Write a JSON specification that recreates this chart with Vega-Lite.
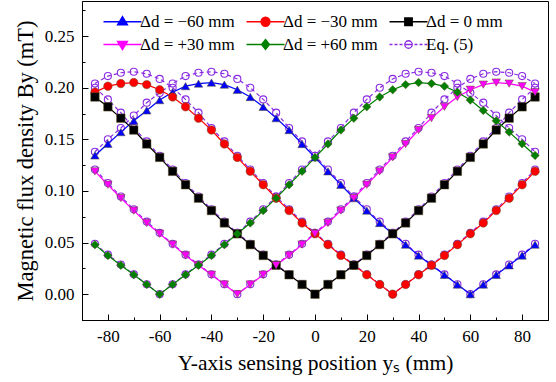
{
"$schema": "https://vega.github.io/schema/vega-lite/v6.json",
"width": 466, "height": 319,
"autosize": {"type": "none"},
"padding": {"left": 82, "top": 1, "right": 8, "bottom": 62},
"background": "white",
"datasets": {
"m": [
{"ys":-85,"By":0.1344,"s":"Δd = −60 mm"},{"ys":-80,"By":0.1457,"s":"Δd = −60 mm"},{"ys":-75,"By":0.157,"s":"Δd = −60 mm"},{"ys":-70,"By":0.168,"s":"Δd = −60 mm"},{"ys":-65,"By":0.178,"s":"Δd = −60 mm"},{"ys":-60,"By":0.188,"s":"Δd = −60 mm"},{"ys":-55,"By":0.1957,"s":"Δd = −60 mm"},{"ys":-50,"By":0.2015,"s":"Δd = −60 mm"},{"ys":-45,"By":0.204,"s":"Δd = −60 mm"},{"ys":-40,"By":0.205,"s":"Δd = −60 mm"},{"ys":-35,"By":0.203,"s":"Δd = −60 mm"},{"ys":-30,"By":0.198,"s":"Δd = −60 mm"},{"ys":-25,"By":0.191,"s":"Δd = −60 mm"},{"ys":-20,"By":0.1815,"s":"Δd = −60 mm"},{"ys":-15,"By":0.1705,"s":"Δd = −60 mm"},{"ys":-10,"By":0.159,"s":"Δd = −60 mm"},{"ys":-5,"By":0.1455,"s":"Δd = −60 mm"},{"ys":0,"By":0.1325,"s":"Δd = −60 mm"},{"ys":5,"By":0.119,"s":"Δd = −60 mm"},{"ys":10,"By":0.106,"s":"Δd = −60 mm"},{"ys":15,"By":0.093,"s":"Δd = −60 mm"},{"ys":20,"By":0.081,"s":"Δd = −60 mm"},{"ys":25,"By":0.069,"s":"Δd = −60 mm"},{"ys":30,"By":0.0585,"s":"Δd = −60 mm"},{"ys":35,"By":0.048,"s":"Δd = −60 mm"},{"ys":40,"By":0.0375,"s":"Δd = −60 mm"},{"ys":45,"By":0.028,"s":"Δd = −60 mm"},{"ys":50,"By":0.0188,"s":"Δd = −60 mm"},{"ys":55,"By":0.0094,"s":"Δd = −60 mm"},{"ys":60,"By":0,"s":"Δd = −60 mm"},{"ys":65,"By":0.0094,"s":"Δd = −60 mm"},{"ys":70,"By":0.0188,"s":"Δd = −60 mm"},{"ys":75,"By":0.028,"s":"Δd = −60 mm"},{"ys":80,"By":0.0375,"s":"Δd = −60 mm"},{"ys":85,"By":0.048,"s":"Δd = −60 mm"},
{"ys":-85,"By":0.1957,"s":"Δd = −30 mm"},{"ys":-80,"By":0.2015,"s":"Δd = −30 mm"},{"ys":-75,"By":0.204,"s":"Δd = −30 mm"},{"ys":-70,"By":0.205,"s":"Δd = −30 mm"},{"ys":-65,"By":0.203,"s":"Δd = −30 mm"},{"ys":-60,"By":0.198,"s":"Δd = −30 mm"},{"ys":-55,"By":0.191,"s":"Δd = −30 mm"},{"ys":-50,"By":0.1815,"s":"Δd = −30 mm"},{"ys":-45,"By":0.1705,"s":"Δd = −30 mm"},{"ys":-40,"By":0.159,"s":"Δd = −30 mm"},{"ys":-35,"By":0.1455,"s":"Δd = −30 mm"},{"ys":-30,"By":0.1325,"s":"Δd = −30 mm"},{"ys":-25,"By":0.119,"s":"Δd = −30 mm"},{"ys":-20,"By":0.106,"s":"Δd = −30 mm"},{"ys":-15,"By":0.093,"s":"Δd = −30 mm"},{"ys":-10,"By":0.081,"s":"Δd = −30 mm"},{"ys":-5,"By":0.069,"s":"Δd = −30 mm"},{"ys":0,"By":0.0585,"s":"Δd = −30 mm"},{"ys":5,"By":0.048,"s":"Δd = −30 mm"},{"ys":10,"By":0.0375,"s":"Δd = −30 mm"},{"ys":15,"By":0.028,"s":"Δd = −30 mm"},{"ys":20,"By":0.0188,"s":"Δd = −30 mm"},{"ys":25,"By":0.0094,"s":"Δd = −30 mm"},{"ys":30,"By":0,"s":"Δd = −30 mm"},{"ys":35,"By":0.0094,"s":"Δd = −30 mm"},{"ys":40,"By":0.0188,"s":"Δd = −30 mm"},{"ys":45,"By":0.028,"s":"Δd = −30 mm"},{"ys":50,"By":0.0375,"s":"Δd = −30 mm"},{"ys":55,"By":0.048,"s":"Δd = −30 mm"},{"ys":60,"By":0.0585,"s":"Δd = −30 mm"},{"ys":65,"By":0.069,"s":"Δd = −30 mm"},{"ys":70,"By":0.081,"s":"Δd = −30 mm"},{"ys":75,"By":0.093,"s":"Δd = −30 mm"},{"ys":80,"By":0.106,"s":"Δd = −30 mm"},{"ys":85,"By":0.119,"s":"Δd = −30 mm"},
{"ys":-85,"By":0.191,"s":"Δd = 0 mm"},{"ys":-80,"By":0.1815,"s":"Δd = 0 mm"},{"ys":-75,"By":0.1705,"s":"Δd = 0 mm"},{"ys":-70,"By":0.159,"s":"Δd = 0 mm"},{"ys":-65,"By":0.1455,"s":"Δd = 0 mm"},{"ys":-60,"By":0.1325,"s":"Δd = 0 mm"},{"ys":-55,"By":0.119,"s":"Δd = 0 mm"},{"ys":-50,"By":0.106,"s":"Δd = 0 mm"},{"ys":-45,"By":0.093,"s":"Δd = 0 mm"},{"ys":-40,"By":0.081,"s":"Δd = 0 mm"},{"ys":-35,"By":0.069,"s":"Δd = 0 mm"},{"ys":-30,"By":0.0585,"s":"Δd = 0 mm"},{"ys":-25,"By":0.048,"s":"Δd = 0 mm"},{"ys":-20,"By":0.0375,"s":"Δd = 0 mm"},{"ys":-15,"By":0.028,"s":"Δd = 0 mm"},{"ys":-10,"By":0.0188,"s":"Δd = 0 mm"},{"ys":-5,"By":0.0094,"s":"Δd = 0 mm"},{"ys":0,"By":0,"s":"Δd = 0 mm"},{"ys":5,"By":0.0094,"s":"Δd = 0 mm"},{"ys":10,"By":0.0188,"s":"Δd = 0 mm"},{"ys":15,"By":0.028,"s":"Δd = 0 mm"},{"ys":20,"By":0.0375,"s":"Δd = 0 mm"},{"ys":25,"By":0.048,"s":"Δd = 0 mm"},{"ys":30,"By":0.0585,"s":"Δd = 0 mm"},{"ys":35,"By":0.069,"s":"Δd = 0 mm"},{"ys":40,"By":0.081,"s":"Δd = 0 mm"},{"ys":45,"By":0.093,"s":"Δd = 0 mm"},{"ys":50,"By":0.106,"s":"Δd = 0 mm"},{"ys":55,"By":0.119,"s":"Δd = 0 mm"},{"ys":60,"By":0.1325,"s":"Δd = 0 mm"},{"ys":65,"By":0.1455,"s":"Δd = 0 mm"},{"ys":70,"By":0.159,"s":"Δd = 0 mm"},{"ys":75,"By":0.1705,"s":"Δd = 0 mm"},{"ys":80,"By":0.1815,"s":"Δd = 0 mm"},{"ys":85,"By":0.191,"s":"Δd = 0 mm"},
{"ys":-85,"By":0.119,"s":"Δd = +30 mm"},{"ys":-80,"By":0.106,"s":"Δd = +30 mm"},{"ys":-75,"By":0.093,"s":"Δd = +30 mm"},{"ys":-70,"By":0.081,"s":"Δd = +30 mm"},{"ys":-65,"By":0.069,"s":"Δd = +30 mm"},{"ys":-60,"By":0.0585,"s":"Δd = +30 mm"},{"ys":-55,"By":0.048,"s":"Δd = +30 mm"},{"ys":-50,"By":0.0375,"s":"Δd = +30 mm"},{"ys":-45,"By":0.028,"s":"Δd = +30 mm"},{"ys":-40,"By":0.0188,"s":"Δd = +30 mm"},{"ys":-35,"By":0.0094,"s":"Δd = +30 mm"},{"ys":-30,"By":0,"s":"Δd = +30 mm"},{"ys":-25,"By":0.0094,"s":"Δd = +30 mm"},{"ys":-20,"By":0.0188,"s":"Δd = +30 mm"},{"ys":-15,"By":0.028,"s":"Δd = +30 mm"},{"ys":-10,"By":0.0375,"s":"Δd = +30 mm"},{"ys":-5,"By":0.048,"s":"Δd = +30 mm"},{"ys":0,"By":0.0585,"s":"Δd = +30 mm"},{"ys":5,"By":0.069,"s":"Δd = +30 mm"},{"ys":10,"By":0.081,"s":"Δd = +30 mm"},{"ys":15,"By":0.093,"s":"Δd = +30 mm"},{"ys":20,"By":0.106,"s":"Δd = +30 mm"},{"ys":25,"By":0.119,"s":"Δd = +30 mm"},{"ys":30,"By":0.1325,"s":"Δd = +30 mm"},{"ys":35,"By":0.1455,"s":"Δd = +30 mm"},{"ys":40,"By":0.159,"s":"Δd = +30 mm"},{"ys":45,"By":0.1705,"s":"Δd = +30 mm"},{"ys":50,"By":0.1815,"s":"Δd = +30 mm"},{"ys":55,"By":0.191,"s":"Δd = +30 mm"},{"ys":60,"By":0.198,"s":"Δd = +30 mm"},{"ys":65,"By":0.203,"s":"Δd = +30 mm"},{"ys":70,"By":0.205,"s":"Δd = +30 mm"},{"ys":75,"By":0.204,"s":"Δd = +30 mm"},{"ys":80,"By":0.2015,"s":"Δd = +30 mm"},{"ys":85,"By":0.1957,"s":"Δd = +30 mm"},
{"ys":-85,"By":0.048,"s":"Δd = +60 mm"},{"ys":-80,"By":0.0375,"s":"Δd = +60 mm"},{"ys":-75,"By":0.028,"s":"Δd = +60 mm"},{"ys":-70,"By":0.0188,"s":"Δd = +60 mm"},{"ys":-65,"By":0.0094,"s":"Δd = +60 mm"},{"ys":-60,"By":0,"s":"Δd = +60 mm"},{"ys":-55,"By":0.0094,"s":"Δd = +60 mm"},{"ys":-50,"By":0.0188,"s":"Δd = +60 mm"},{"ys":-45,"By":0.028,"s":"Δd = +60 mm"},{"ys":-40,"By":0.0375,"s":"Δd = +60 mm"},{"ys":-35,"By":0.048,"s":"Δd = +60 mm"},{"ys":-30,"By":0.0585,"s":"Δd = +60 mm"},{"ys":-25,"By":0.069,"s":"Δd = +60 mm"},{"ys":-20,"By":0.081,"s":"Δd = +60 mm"},{"ys":-15,"By":0.093,"s":"Δd = +60 mm"},{"ys":-10,"By":0.106,"s":"Δd = +60 mm"},{"ys":-5,"By":0.119,"s":"Δd = +60 mm"},{"ys":0,"By":0.1325,"s":"Δd = +60 mm"},{"ys":5,"By":0.1455,"s":"Δd = +60 mm"},{"ys":10,"By":0.159,"s":"Δd = +60 mm"},{"ys":15,"By":0.1705,"s":"Δd = +60 mm"},{"ys":20,"By":0.1815,"s":"Δd = +60 mm"},{"ys":25,"By":0.191,"s":"Δd = +60 mm"},{"ys":30,"By":0.198,"s":"Δd = +60 mm"},{"ys":35,"By":0.203,"s":"Δd = +60 mm"},{"ys":40,"By":0.205,"s":"Δd = +60 mm"},{"ys":45,"By":0.204,"s":"Δd = +60 mm"},{"ys":50,"By":0.2015,"s":"Δd = +60 mm"},{"ys":55,"By":0.1957,"s":"Δd = +60 mm"},{"ys":60,"By":0.188,"s":"Δd = +60 mm"},{"ys":65,"By":0.178,"s":"Δd = +60 mm"},{"ys":70,"By":0.168,"s":"Δd = +60 mm"},{"ys":75,"By":0.157,"s":"Δd = +60 mm"},{"ys":80,"By":0.1457,"s":"Δd = +60 mm"},{"ys":85,"By":0.1344,"s":"Δd = +60 mm"}
],
"e": [
{"ys":-85,"By":0.138,"d":-60},{"ys":-80,"By":0.15,"d":-60},{"ys":-75,"By":0.161,"d":-60},{"ys":-70,"By":0.173,"d":-60},{"ys":-65,"By":0.1855,"d":-60},{"ys":-60,"By":0.195,"d":-60},{"ys":-55,"By":0.204,"d":-60},{"ys":-50,"By":0.2113,"d":-60},{"ys":-45,"By":0.2145,"d":-60},{"ys":-40,"By":0.2155,"d":-60},{"ys":-35,"By":0.2135,"d":-60},{"ys":-30,"By":0.2085,"d":-60},{"ys":-25,"By":0.2,"d":-60},{"ys":-20,"By":0.1887,"d":-60},{"ys":-15,"By":0.1758,"d":-60},{"ys":-10,"By":0.161,"d":-60},{"ys":-5,"By":0.148,"d":-60},{"ys":0,"By":0.134,"d":-60},{"ys":5,"By":0.1208,"d":-60},{"ys":10,"By":0.1077,"d":-60},{"ys":15,"By":0.0946,"d":-60},{"ys":20,"By":0.0822,"d":-60},{"ys":25,"By":0.0703,"d":-60},{"ys":30,"By":0.0594,"d":-60},{"ys":35,"By":0.0488,"d":-60},{"ys":40,"By":0.0383,"d":-60},{"ys":45,"By":0.0287,"d":-60},{"ys":50,"By":0.0192,"d":-60},{"ys":55,"By":0.0096,"d":-60},{"ys":60,"By":0,"d":-60},{"ys":65,"By":0.0096,"d":-60},{"ys":70,"By":0.0192,"d":-60},{"ys":75,"By":0.0287,"d":-60},{"ys":80,"By":0.0383,"d":-60},{"ys":85,"By":0.0488,"d":-60},
{"ys":-85,"By":0.204,"d":-30},{"ys":-80,"By":0.2113,"d":-30},{"ys":-75,"By":0.2145,"d":-30},{"ys":-70,"By":0.2155,"d":-30},{"ys":-65,"By":0.2135,"d":-30},{"ys":-60,"By":0.2085,"d":-30},{"ys":-55,"By":0.2,"d":-30},{"ys":-50,"By":0.1887,"d":-30},{"ys":-45,"By":0.1758,"d":-30},{"ys":-40,"By":0.161,"d":-30},{"ys":-35,"By":0.148,"d":-30},{"ys":-30,"By":0.134,"d":-30},{"ys":-25,"By":0.1208,"d":-30},{"ys":-20,"By":0.1077,"d":-30},{"ys":-15,"By":0.0946,"d":-30},{"ys":-10,"By":0.0822,"d":-30},{"ys":-5,"By":0.0703,"d":-30},{"ys":0,"By":0.0594,"d":-30},{"ys":5,"By":0.0488,"d":-30},{"ys":10,"By":0.0383,"d":-30},{"ys":15,"By":0.0287,"d":-30},{"ys":20,"By":0.0192,"d":-30},{"ys":25,"By":0.0096,"d":-30},{"ys":30,"By":0,"d":-30},{"ys":35,"By":0.0096,"d":-30},{"ys":40,"By":0.0192,"d":-30},{"ys":45,"By":0.0287,"d":-30},{"ys":50,"By":0.0383,"d":-30},{"ys":55,"By":0.0488,"d":-30},{"ys":60,"By":0.0594,"d":-30},{"ys":65,"By":0.0703,"d":-30},{"ys":70,"By":0.0822,"d":-30},{"ys":75,"By":0.0946,"d":-30},{"ys":80,"By":0.1077,"d":-30},{"ys":85,"By":0.1208,"d":-30},
{"ys":-85,"By":0.2,"d":0},{"ys":-80,"By":0.1887,"d":0},{"ys":-75,"By":0.1758,"d":0},{"ys":-70,"By":0.161,"d":0},{"ys":-65,"By":0.148,"d":0},{"ys":-60,"By":0.134,"d":0},{"ys":-55,"By":0.1208,"d":0},{"ys":-50,"By":0.1077,"d":0},{"ys":-45,"By":0.0946,"d":0},{"ys":-40,"By":0.0822,"d":0},{"ys":-35,"By":0.0703,"d":0},{"ys":-30,"By":0.0594,"d":0},{"ys":-25,"By":0.0488,"d":0},{"ys":-20,"By":0.0383,"d":0},{"ys":-15,"By":0.0287,"d":0},{"ys":-10,"By":0.0192,"d":0},{"ys":-5,"By":0.0096,"d":0},{"ys":0,"By":0,"d":0},{"ys":5,"By":0.0096,"d":0},{"ys":10,"By":0.0192,"d":0},{"ys":15,"By":0.0287,"d":0},{"ys":20,"By":0.0383,"d":0},{"ys":25,"By":0.0488,"d":0},{"ys":30,"By":0.0594,"d":0},{"ys":35,"By":0.0703,"d":0},{"ys":40,"By":0.0822,"d":0},{"ys":45,"By":0.0946,"d":0},{"ys":50,"By":0.1077,"d":0},{"ys":55,"By":0.1208,"d":0},{"ys":60,"By":0.134,"d":0},{"ys":65,"By":0.148,"d":0},{"ys":70,"By":0.161,"d":0},{"ys":75,"By":0.1758,"d":0},{"ys":80,"By":0.1887,"d":0},{"ys":85,"By":0.2,"d":0},
{"ys":-85,"By":0.1208,"d":30},{"ys":-80,"By":0.1077,"d":30},{"ys":-75,"By":0.0946,"d":30},{"ys":-70,"By":0.0822,"d":30},{"ys":-65,"By":0.0703,"d":30},{"ys":-60,"By":0.0594,"d":30},{"ys":-55,"By":0.0488,"d":30},{"ys":-50,"By":0.0383,"d":30},{"ys":-45,"By":0.0287,"d":30},{"ys":-40,"By":0.0192,"d":30},{"ys":-35,"By":0.0096,"d":30},{"ys":-30,"By":0,"d":30},{"ys":-25,"By":0.0096,"d":30},{"ys":-20,"By":0.0192,"d":30},{"ys":-15,"By":0.0287,"d":30},{"ys":-10,"By":0.0383,"d":30},{"ys":-5,"By":0.0488,"d":30},{"ys":0,"By":0.0594,"d":30},{"ys":5,"By":0.0703,"d":30},{"ys":10,"By":0.0822,"d":30},{"ys":15,"By":0.0946,"d":30},{"ys":20,"By":0.1077,"d":30},{"ys":25,"By":0.1208,"d":30},{"ys":30,"By":0.134,"d":30},{"ys":35,"By":0.148,"d":30},{"ys":40,"By":0.161,"d":30},{"ys":45,"By":0.1758,"d":30},{"ys":50,"By":0.1887,"d":30},{"ys":55,"By":0.2,"d":30},{"ys":60,"By":0.2085,"d":30},{"ys":65,"By":0.2135,"d":30},{"ys":70,"By":0.2155,"d":30},{"ys":75,"By":0.2145,"d":30},{"ys":80,"By":0.2113,"d":30},{"ys":85,"By":0.204,"d":30},
{"ys":-85,"By":0.0488,"d":60},{"ys":-80,"By":0.0383,"d":60},{"ys":-75,"By":0.0287,"d":60},{"ys":-70,"By":0.0192,"d":60},{"ys":-65,"By":0.0096,"d":60},{"ys":-60,"By":0,"d":60},{"ys":-55,"By":0.0096,"d":60},{"ys":-50,"By":0.0192,"d":60},{"ys":-45,"By":0.0287,"d":60},{"ys":-40,"By":0.0383,"d":60},{"ys":-35,"By":0.0488,"d":60},{"ys":-30,"By":0.0594,"d":60},{"ys":-25,"By":0.0703,"d":60},{"ys":-20,"By":0.0822,"d":60},{"ys":-15,"By":0.0946,"d":60},{"ys":-10,"By":0.1077,"d":60},{"ys":-5,"By":0.1208,"d":60},{"ys":0,"By":0.134,"d":60},{"ys":5,"By":0.148,"d":60},{"ys":10,"By":0.161,"d":60},{"ys":15,"By":0.1758,"d":60},{"ys":20,"By":0.1887,"d":60},{"ys":25,"By":0.2,"d":60},{"ys":30,"By":0.2085,"d":60},{"ys":35,"By":0.2135,"d":60},{"ys":40,"By":0.2155,"d":60},{"ys":45,"By":0.2145,"d":60},{"ys":50,"By":0.2113,"d":60},{"ys":55,"By":0.204,"d":60},{"ys":60,"By":0.195,"d":60},{"ys":65,"By":0.1855,"d":60},{"ys":70,"By":0.173,"d":60},{"ys":75,"By":0.161,"d":60},{"ys":80,"By":0.15,"d":60},{"ys":85,"By":0.138,"d":60}
]
},
"encoding": {
"x": {"field": "ys", "type": "quantitative",
 "scale": {"domain": [-90, 90], "nice": false, "zero": false},
 "axis": {"values": [-90,-80,-70,-60,-50,-40,-30,-20,-10,0,10,20,30,40,50,60,70,80,90],
  "labelExpr": "datum.value % 20 === 0 ? '' + datum.value : ''",
  "tickSize": {"condition": {"test": "datum.value % 20 === 0", "value": -6}, "value": -3},
  "labelPadding": 14, "labelFlush": false, "labelOverlap": false,
  "title": "Y-axis sensing position yₛ (mm)", "titlePadding": 5, "titleFontSize": 21.5}},
"y": {"field": "By", "type": "quantitative",
 "scale": {"domain": [-0.025, 0.284], "nice": false, "zero": false},
 "axis": {"values": [-0.025,0,0.025,0.05,0.075,0.1,0.125,0.15,0.175,0.2,0.225,0.25,0.275],
  "labelExpr": "abs(round(datum.value*1000)) % 50 === 0 ? format(datum.value, '.2f') : ''",
  "tickSize": {"condition": {"test": "abs(round(datum.value*1000)) % 50 === 0", "value": -6}, "value": -3},
  "labelPadding": 14, "labelFlush": false, "labelOverlap": false,
  "title": "Magnetic flux density By (mT)", "titlePadding": 7, "titleFontSize": 22.5}}
},
"layer": [
{"data": {"name": "e"},
 "mark": {"type": "line", "color": "#8b2be2", "strokeDash": [4, 3], "strokeWidth": 1.2},
 "encoding": {"detail": {"field": "d", "type": "nominal"}}},
{"data": {"name": "e"},
 "mark": {"type": "point", "shape": "circle", "filled": false, "color": "#8b2be2", "size": 50, "strokeWidth": 1.1, "opacity": 1},
 "encoding": {"detail": {"field": "d", "type": "nominal"}}},
{"data": {"name": "m"},
 "mark": {"type": "line", "strokeWidth": 1.2},
 "encoding": {"color": {"field": "s", "type": "nominal", "legend": null,
  "scale": {"domain": ["Δd = −60 mm","Δd = −30 mm","Δd = 0 mm","Δd = +30 mm","Δd = +60 mm"],
            "range": ["#0000ff","#ff0000","#000000","#ff00ff","#008000"]}}}},
{"data": {"name": "m"},
 "mark": {"type": "point", "filled": true, "size": 72, "stroke": "#5f5428", "strokeWidth": 0.5, "opacity": 1},
 "encoding": {
  "fill": {"field": "s", "type": "nominal", "legend": null,
   "scale": {"domain": ["Δd = −60 mm","Δd = −30 mm","Δd = 0 mm","Δd = +30 mm","Δd = +60 mm"],
             "range": ["#0000ff","#ff0000","#000000","#ff00ff","#008000"]}},
  "shape": {"field": "s", "type": "nominal", "legend": null,
   "scale": {"domain": ["Δd = −60 mm","Δd = −30 mm","Δd = 0 mm","Δd = +30 mm","Δd = +60 mm"],
             "range": ["triangle-up","circle","square","triangle-down","diamond"]}}}},
{"data": {"name": "m"},
 "transform": [{"filter": "false"}],
 "mark": {"type": "point", "size": 100, "strokeWidth": 1.3, "opacity": 1},
 "encoding": {
  "shape": {"field": "s", "type": "nominal",
   "scale": {"domain": ["Δd = −60 mm","Δd = −30 mm","Δd = 0 mm","Δd = +30 mm","Δd = +60 mm","Eq. (5)"],
    "range": ["M-3.8,0H3.8M0,-1.05L1,0.6L-1,0.6Z",
              "M-3.8,0H-0.9M0.9,0H3.8M-0.9,0A0.9,0.9,0,1,0,0.9,0A0.9,0.9,0,1,0,-0.9,0Z",
              "M-3.8,0H3.8M-0.75,-0.75H0.75V0.75H-0.75Z",
              "M-3.8,0H3.8M0,1.05L1,-0.6L-1,-0.6Z",
              "M-3.8,0H3.8M0,-1L0.8,0L0,1L-0.8,0Z",
              "M-3.8,0H-3.2M-2.8,0H-2.2M-1.8,0H-1.2M-0.75,0H0.75M1.2,0H1.8M2.2,0H2.8M3.2,0H3.8M-0.75,0A0.75,0.75,0,1,0,0.75,0A0.75,0.75,0,1,0,-0.75,0Z"]},
   "legend": {"title": null, "orient": "none", "legendX": 18, "legendY": 12, "columns": 3, "direction": "horizontal", "padding": 0,
    "labelFont": "Liberation Serif", "labelFontSize": 17, "labelColor": "black", "symbolOffset": 14, "labelOffset": 9, "labelLimit": 300,
    "columnPadding": 8, "rowPadding": 5, "symbolStrokeWidth": 1.3, "symbolSize": 100}},
  "fill": {"field": "s", "type": "nominal",
   "scale": {"domain": ["Δd = −60 mm","Δd = −30 mm","Δd = 0 mm","Δd = +30 mm","Δd = +60 mm","Eq. (5)"],
    "range": ["#0000ff","#ff0000","#000000","#ff00ff","#008000","transparent"]},
   "legend": {"title": null, "orient": "none", "legendX": 18, "legendY": 12, "columns": 3, "direction": "horizontal", "padding": 0,
    "labelFont": "Liberation Serif", "labelFontSize": 17, "labelColor": "black", "symbolOffset": 14, "labelOffset": 9, "labelLimit": 300,
    "columnPadding": 8, "rowPadding": 5, "symbolStrokeWidth": 1.3, "symbolSize": 100}},
  "stroke": {"field": "s", "type": "nominal",
   "scale": {"domain": ["Δd = −60 mm","Δd = −30 mm","Δd = 0 mm","Δd = +30 mm","Δd = +60 mm","Eq. (5)"],
    "range": ["#0000ff","#ff0000","#000000","#ff00ff","#008000","#8b2be2"]},
   "legend": {"title": null, "orient": "none", "legendX": 18, "legendY": 12, "columns": 3, "direction": "horizontal", "padding": 0,
    "labelFont": "Liberation Serif", "labelFontSize": 17, "labelColor": "black", "symbolOffset": 14, "labelOffset": 9, "labelLimit": 300,
    "columnPadding": 8, "rowPadding": 5, "symbolStrokeWidth": 1.3, "symbolSize": 100}}}}
],
"resolve": {"scale": {"shape": "independent", "fill": "independent", "stroke": "independent", "color": "independent"}},
"config": {
 "font": "Liberation Serif",
 "view": {"stroke": "black", "strokeWidth": 1},
 "axis": {"domainColor": "black", "domainWidth": 1, "tickColor": "black", "tickWidth": 1, "labelColor": "black", "titleColor": "black",
  "grid": false, "labelFont": "Liberation Serif", "titleFont": "Liberation Serif", "labelFontSize": 17, "titleFontSize": 20, "titleFontWeight": "normal"}
}
}
